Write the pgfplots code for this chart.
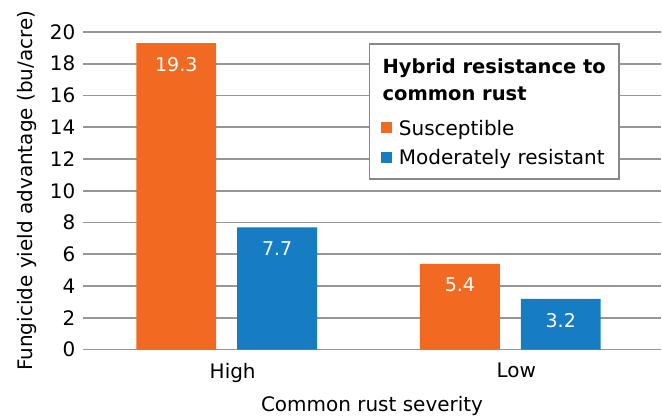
\documentclass[border=0pt]{standalone}
\usepackage{fontspec}
\setmainfont{DejaVu Sans}
\usepackage{pgfplots}
\pgfplotsset{compat=1.18}
\definecolor{orng}{RGB}{242,106,33}
\definecolor{blu}{RGB}{22,124,196}
\definecolor{gridg}{RGB}{150,150,150}
\begin{document}
\begin{tikzpicture}[font=\fontsize{20}{24}\selectfont]
\begin{axis}[
  scale only axis,
  width=579pt, height=318pt,
  xmin=-0.507, xmax=1.532,
  ymin=0, ymax=20,
  ytick={0,2,...,20},
  xtick={0,1},
  xticklabels={High,Low},
  ybar=21pt,
  bar width=80pt,
  axis line style={draw=none},
  major tick length=0pt,
  ymajorgrids,
  grid style={gridg, line width=1.6pt},
  /pgf/number format/assume math mode=true,
  ticklabel style={font=\fontsize{20}{24}\selectfont},
  yticklabel style={xshift=-4pt},
  xticklabel style={yshift=-10pt, xshift=6pt},
  ylabel={Fungicide yield advantage (bu/acre)},
  xlabel={Common rust severity},
  ylabel style={yshift=6pt},
  xlabel style={yshift=-7pt},
  nodes near coords,
  every node near coord/.append style={anchor=north, inner sep=0pt, yshift=-14pt, text=white, font=\fontsize{19}{22}\selectfont},
  legend image code/.code={\fill[#1] (0pt,-5pt) rectangle (11pt,6pt);},
  legend style={at={(rel axis cs:0.515,0.730)}, anchor=north west, draw=none, fill=none, inner sep=0pt, row sep=9pt, column sep=5pt, cells={anchor=west}, font=\fontsize{20}{24}\selectfont},
  legend cell align=left,
]
\addplot[fill=orng, draw=none] coordinates {(0,19.3) (1,5.4)};
\addplot[fill=blu, draw=none] coordinates {(0,7.7) (1,3.2)};
\draw[draw={rgb,255:red,135;green,135;blue,135}, fill=white, line width=1.2pt] (rel axis cs:0.496,0.962) rectangle (rel axis cs:0.927,0.537);
\node[anchor=north west, inner sep=0pt, align=left, font=\fontsize{19.5}{28}\selectfont\bfseries] at (rel axis cs:0.518,0.918) {Hybrid resistance to\\common rust};
\legend{Susceptible, Moderately resistant}
\end{axis}
\path (current axis.south west) ++(-83pt,-63pt) rectangle ++(662pt,413pt);
\end{tikzpicture}
\end{document}
